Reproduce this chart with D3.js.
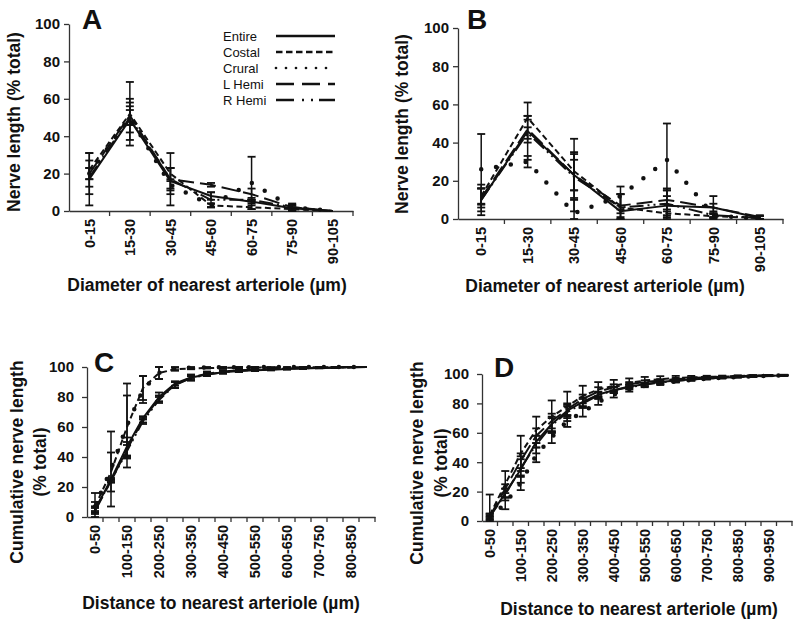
<!DOCTYPE html>
<html><head><meta charset="utf-8">
<script src="https://cdn.jsdelivr.net/npm/d3@7"></script>
<style>
html,body{margin:0;padding:0;background:#fff;}
svg{display:block;font-family:"Liberation Sans",Arial,sans-serif;}
</style></head>
<body>
<svg id="fig" width="800" height="627"></svg>
<script>
// ---------- categories ----------
const catsDiameter = ["0-15","15-30","30-45","45-60","60-75","75-90","90-105"];
const catsDistC = ["0-50","50-100","100-150","150-200","200-250","250-300","300-350","350-400","400-450","450-500","500-550","550-600","600-650","650-700","700-750","750-800","800-850","850-900"];
const catsDistD = ["0-50","50-100","100-150","150-200","200-250","250-300","300-350","350-400","400-450","450-500","500-550","550-600","600-650","650-700","700-750","750-800","800-850","850-900","900-950","950-1000"];
const yTicks = [0,20,40,60,80,100];
const seriesNames = ["Entire","Costal","Crural","L Hemi","R Hemi"];

// ---------- Panel A ----------
const A_entire = [17,49,16,8,5,1.5,0];
const A_costal = [22,52,20,3,2,1,0];
const A_crural = [20,50,14,3,15,2,0];
const A_lhemi  = [20,51,17,14,9,2,0];
const A_rhemi  = [18,50,17,6,6,2,0];
const A_entireErr = [14,11,7,2,1,2,0];
const A_costalErr = [5,17,3,1,1,1,0];
const A_cruralErr = [11,8,2,1,14,2,0];
const A_lhemiErr  = [3,5,6,1,3,1,0];
const A_rhemiErr  = [5,4,14,4,1,1,0];

// ---------- Panel B ----------
const B_entire = [10,46,23,4,7,6,0.5];
const B_costal = [12,53,25,6,3,1.5,0.5];
const B_crural = [26,30,3,12,31,2,0];
const B_lhemi  = [11,47,23,7,10,6,1];
const B_rhemi  = [10,45,22,6,8,2,0.5];
const B_entireErr = [8,15,19,1,9,6,1];
const B_costalErr = [4,1,10,7,1,1,1];
const B_cruralErr = [18.5,3,8,5,19,1,0];
const B_lhemiErr  = [5,7,8,6,5,2,1];
const B_rhemiErr  = [6,3,12,7,7,1,1];

// ---------- Panel C ----------
const C_entire = [5,25,47,66,80,89,93,95,96.5,97.3,97.8,98.2,98.6,99,99.3,99.5,99.8,100];
const C_costal = [7,30,60,86,96,98.5,99,99.3,99.5,99.6,99.7,99.8,99.8,99.9,99.9,99.9,100,100];
const C_crural = [7,32,61,85,96,99,99.5,99.7,99.8,99.9,99.9,100,100,100,100,100,100,100];
const C_lhemi  = [4,24,45,65,79,88,93,95.5,97,97.8,98.3,98.7,99,99.3,99.5,99.7,99.9,100];
const C_rhemi  = [5,24,44,64,78,88,92.5,95,96.5,97.5,98,98.5,99,99.2,99.5,99.7,99.9,100];
const C_entireErr = [2,1,6,1,3,1.5,1,1,0.8,0.6,0.5,0.5,0.4,0.3,0.2,0.2,0.1,0];
const C_costalErr = [9,13,21,8,4,1,0.5,0.3,0.3,0.2,0.2,0.1,0.1,0.1,0.1,0.1,0,0];
const C_cruralErr = [3,25,28,9,4,1,0.5,0.3,0.2,0.1,0.1,0,0,0,0,0,0,0];
const C_lhemiErr  = [2,1,5,2,2,2,2,1.5,1,1,0.8,0.6,0.5,0.4,0.3,0.2,0.1,0];
const C_rhemiErr  = [2,1,4,2,2,2,1.5,1,1,0.8,0.6,0.5,0.4,0.3,0.2,0.2,0.1,0];

// ---------- Panel D ----------
const D_entire = [3,19,35,54,66,75,81,86,89,91.5,93,94.5,95.5,96.3,97,97.5,98,98.4,98.8,99];
const D_costal = [4,25,46,62,71,78,85,89.5,92,94,95.5,96.5,97.2,97.7,98,98.3,98.6,98.9,99.1,99.3];
const D_crural = [2,12,26,45,57,68,74,81,86,89.5,92,93.5,95,96,96.8,97.5,98,98.5,98.8,99];
const D_lhemi  = [3,22,41,58,68,76,83,88,91,93,94.5,95.5,96.5,97.2,97.8,98.2,98.5,98.8,99,99.2];
const D_rhemi  = [3,18,36,52,65,74,80,85.5,89,91,92.8,94.2,95.3,96.2,96.9,97.4,97.9,98.3,98.7,99];
const D_entireErr = [2,3,9,4,5,4,3,2,2,1.5,1.2,1,0.8,0.6,0.5,0.4,0.3,0.3,0.2,0.1];
const D_costalErr = [1,9,12,9,11,10,7,5,4,3,2.5,2,1.5,1,0.8,0.6,0.5,0.4,0.3,0.2];
const D_cruralErr = [1,4,5,5,4,4,3,2,2,1.5,1,1,0.8,0.6,0.5,0.4,0.3,0.3,0.2,0.2];
const D_lhemiErr  = [1,3,5,5,5,4,3,3,2,1.5,1.2,1,0.8,0.6,0.5,0.4,0.3,0.3,0.2,0.2];
const D_rhemiErr  = [15,4,6,6,5,4,3,2,2,1.5,1.2,1,0.8,0.6,0.5,0.4,0.3,0.3,0.2,0.2];

// ---------- styles ----------
const lineStyles = [
  {dash:null, w:2, cap:"butt"},
  {dash:"6,3.5", w:2, cap:"butt"},
  {dash:"0,15", w:4.5, cap:"round"},
  {dash:"16,6", w:2, cap:"butt"},
  {dash:"14,4,2,4,2,4", w:2, cap:"butt"}
];
const legendStyles = [
  {dash:null, w:2.7, cap:"butt"},
  {dash:"6.5,3.5", w:2.7, cap:"butt"},
  {dash:"0,10", w:2.7, cap:"round"},
  {dash:"18,8", w:2.7, cap:"butt"},
  {dash:"18,8,2,7,2,6", w:2.7, cap:"butt"}
];

const svg = d3.select("#fig");
const FONT = '"Liberation Sans",Arial,sans-serif';
const INK = "#111";

function drawPanel(cfg){
  const g = svg.append("g");
  const x = d3.scaleBand().domain(cfg.cats).range([cfg.x0, cfg.x1]).padding(0);
  const y = d3.scaleLinear().domain([0,100]).range([cfg.yBot, cfg.yTop]);
  const cx = c => x(c) + x.bandwidth()/2;

  // y axis
  const ya = g.append("g").attr("transform",`translate(${cfg.x0},0)`)
    .call(d3.axisLeft(y).tickValues(yTicks).tickSize(5).tickPadding(cfg.yPad||4).tickSizeOuter(0));
  ya.select(".domain").attr("stroke","#333").attr("stroke-width",1.3);
  ya.selectAll(".tick line").attr("stroke","#333").attr("stroke-width",1.3);
  ya.selectAll(".tick text").attr("font-family",FONT).attr("font-weight","bold")
    .attr("font-size",15).attr("fill",INK);

  // x axis
  const xa = g.append("g").attr("transform",`translate(0,${cfg.yBot})`)
    .call(d3.axisBottom(x).tickSize(0).tickSizeOuter(0).tickFormat(""));
  xa.select(".domain").attr("stroke","#333").attr("stroke-width",1.3);
  xa.selectAll(".tick").remove();
  // boundary ticks
  g.selectAll(null).data(cfg.cats).enter().append("line")
    .attr("x1",c=>x(c)+x.bandwidth()).attr("x2",c=>x(c)+x.bandwidth())
    .attr("y1",cfg.yBot).attr("y2",cfg.yBot+5)
    .attr("stroke","#333").attr("stroke-width",1.3);
  // labels
  g.selectAll(null).data(cfg.cats.filter((c,i)=>i % cfg.labelEvery===0)).enter().append("text")
    .attr("transform",c=>`translate(${cx(c)},${cfg.yBot+8}) rotate(-90)`)
    .attr("text-anchor","end").attr("dy","0.36em")
    .attr("font-family",FONT).attr("font-weight","bold").attr("font-size",14.5).attr("fill",INK)
    .text(c=>c);

  // error bars
  const capW = 4;
  cfg.series.forEach((s)=>{
    s.vals.forEach((v,i)=>{
      const e = s.errs[i];
      if(!e) return;
      const xc = cx(cfg.cats[i]);
      const lo = Math.max(0, v-e), hi = v+e;
      g.append("line").attr("x1",xc).attr("x2",xc).attr("y1",y(lo)).attr("y2",y(hi))
        .attr("stroke",INK).attr("stroke-width",1.5);
      [lo,hi].forEach(b=>{
        g.append("line").attr("x1",xc-capW).attr("x2",xc+capW).attr("y1",y(b)).attr("y2",y(b))
          .attr("stroke",INK).attr("stroke-width",1.8);
      });
    });
  });

  // lines
  const line = d3.line().x((d,i)=>cx(cfg.cats[i])).y(d=>y(d));
  cfg.series.forEach((s,k)=>{
    const st = lineStyles[k];
    g.append("path").attr("d",line(s.vals)).attr("fill","none").attr("stroke",INK)
      .attr("stroke-width",st.w).attr("stroke-dasharray",st.dash).attr("stroke-linecap",st.cap)
      .attr("stroke-linejoin","round");
  });

  // panel letter
  g.append("text").attr("x",cfg.letterX).attr("y",cfg.letterY)
    .attr("font-family",FONT).attr("font-weight","bold").attr("font-size",28).attr("fill",INK)
    .text(cfg.letter);

  // x title
  g.append("text").attr("x",cfg.xTitleX).attr("y",cfg.xTitleY).attr("text-anchor","middle")
    .attr("font-family",FONT).attr("font-weight","bold").attr("font-size",17.5).attr("fill",INK)
    .text(cfg.xTitle);

  // y title
  cfg.yTitle.forEach((t,i)=>{
    g.append("text").attr("transform",`translate(${cfg.yTitleX[i]},${cfg.yTitleY}) rotate(-90)`)
      .attr("text-anchor","middle")
      .attr("font-family",FONT).attr("font-weight","bold").attr("font-size",17.5).attr("fill",INK)
      .text(t);
  });
}

function mk(vals, errs){ return vals.map((v,i)=>({vals:v, errs:errs[i]})); }

drawPanel({
  cats:catsDiameter, labelEvery:1, x0:69, x1:353, yTop:24, yBot:211,
  series:mk([A_entire,A_costal,A_crural,A_lhemi,A_rhemi],[A_entireErr,A_costalErr,A_cruralErr,A_lhemiErr,A_rhemiErr]),
  letter:"A", letterX:82, letterY:29,
  xTitle:"Diameter of nearest arteriole (µm)", xTitleX:207, xTitleY:291,
  yTitle:["Nerve length (% total)"], yTitleX:[20], yTitleY:122
});
drawPanel({
  cats:catsDiameter, labelEvery:1, x0:458, x1:783, yTop:28, yBot:219,
  series:mk([B_entire,B_costal,B_crural,B_lhemi,B_rhemi],[B_entireErr,B_costalErr,B_cruralErr,B_lhemiErr,B_rhemiErr]),
  letter:"B", letterX:467, letterY:29,
  xTitle:"Diameter of nearest arteriole (µm)", xTitleX:605, xTitleY:292,
  yTitle:["Nerve length (% total)"], yTitleX:[408], yTitleY:124
});
drawPanel({
  cats:catsDistC, labelEvery:2, x0:87, x1:375, yTop:367, yBot:517, yPad:8,
  series:mk([C_entire,C_costal,C_crural,C_lhemi,C_rhemi],[C_entireErr,C_costalErr,C_cruralErr,C_lhemiErr,C_rhemiErr]),
  letter:"C", letterX:94, letterY:372,
  xTitle:"Distance to nearest arteriole (µm)", xTitleX:221, xTitleY:609,
  yTitle:["Cumulative nerve length","(% total)"], yTitleX:[23,46], yTitleY:462
});
drawPanel({
  cats:catsDistD, labelEvery:2, x0:482, x1:792, yTop:374, yBot:521, yPad:8,
  series:mk([D_entire,D_costal,D_crural,D_lhemi,D_rhemi],[D_entireErr,D_costalErr,D_cruralErr,D_lhemiErr,D_rhemiErr]),
  letter:"D", letterX:494, letterY:377,
  xTitle:"Distance to nearest arteriole (µm)", xTitleX:639, xTitleY:615,
  yTitle:["Cumulative nerve length","(% total)"], yTitleX:[423,447], yTitleY:463
});

// legend (panel A)
const leg = svg.append("g");
seriesNames.forEach((n,i)=>{
  const yy = 36 + i*16;
  leg.append("text").attr("x",223).attr("y",yy+4.5)
    .attr("font-family",FONT).attr("font-size",13).attr("fill",INK).text(n);
  const st = legendStyles[i];
  leg.append("line").attr("x1",276).attr("x2",335).attr("y1",yy).attr("y2",yy)
    .attr("stroke",INK).attr("stroke-width",st.w).attr("stroke-dasharray",st.dash)
    .attr("stroke-linecap",st.cap);
});
</script>
</body></html>
